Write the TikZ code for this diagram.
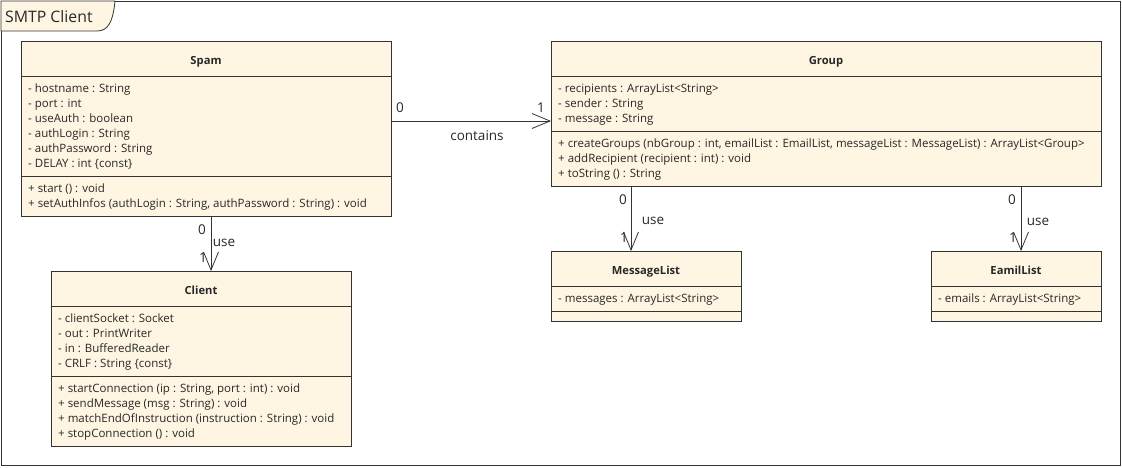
\documentclass[tikz,border=0pt]{standalone}
\usepackage{fontspec}
\setmainfont{Open Sans}
\usetikzlibrary{arrows.meta}
\definecolor{boxfill}{RGB}{254,246,226}
\definecolor{linec}{RGB}{51,51,51}
\definecolor{txt}{RGB}{40,40,40}
\tikzset{
  cls/.style={draw=linec, fill=boxfill, line width=0.8pt, anchor=north west, inner sep=0pt, outer sep=0pt},
  sep/.style={draw=linec, line width=0.8pt},
  attr/.style={anchor=base west, inner sep=0pt, text=txt, font=\fontsize{11.5}{13}\selectfont},
  title/.style={anchor=base, inner sep=0pt, text=txt, font=\fontsize{11.2}{13}\selectfont\bfseries},
  lbl/.style={inner sep=0pt, text=txt, font=\fontsize{13.5}{15}\selectfont},
  assoc/.style={draw=linec, line width=0.8pt, -{Straight Barb[length=18pt,width=15pt,line width=0.8pt]}},
}
\begin{document}
\begin{tikzpicture}[x=1pt,y=-1pt]
\useasboundingbox (0,0) rectangle (1122,467);
% frame
\node[draw=linec, line width=0.8pt, anchor=north west, inner sep=0pt, minimum width=1119pt, minimum height=464pt] (frame) at (1,1) {};
\draw[linec, line width=0.8pt, fill=boxfill] (1,1) -- (1,31) -- (97,31) .. controls (108,31) and (113,22) .. (115,1) -- cycle;
\node[lbl, font=\fontsize{15.8}{17}\selectfont, anchor=west] (tab) at (5,17) {SMTP Client};

% Spam
\node[cls, minimum width=370pt, minimum height=175pt] (spam) at (21,41) {};
\draw[sep] (21,76) -- (391,76);
\draw[sep] (21,176) -- (391,176);
\node[title] (spamt) at (206,64) {Spam};
\node[attr] (s1) at (28,92.5) {- hostname : String};
\node[attr] (s2) at (28,107.5) {- port : int};
\node[attr] (s3) at (28,122.5) {- useAuth : boolean};
\node[attr] (s4) at (28,137.5) {- authLogin : String};
\node[attr] (s5) at (28,152.5) {- authPassword : String};
\node[attr] (s6) at (28,167.5) {- DELAY : int \{const\}};
\node[attr] (s7) at (28,192.5) {+ start () : void};
\node[attr] (s8) at (28,207.5) {+ setAuthInfos (authLogin : String, authPassword : String) : void};

% Group
\node[cls, minimum width=550pt, minimum height=145pt] (group) at (551,41) {};
\draw[sep] (551,76) -- (1101,76);
\draw[sep] (551,131) -- (1101,131);
\node[title] (groupt) at (826,64) {Group};
\node[attr] (g1) at (558,92.5) {- recipients : ArrayList<String>};
\node[attr] (g2) at (558,107.5) {- sender : String};
\node[attr] (g3) at (558,122.5) {- message : String};
\node[attr] (g4) at (558,147.5) {+ createGroups (nbGroup : int, emailList : EmailList, messageList : MessageList) : ArrayList<Group>};
\node[attr] (g5) at (558,162.5) {+ addRecipient (recipient : int) : void};
\node[attr] (g6) at (558,177.5) {+ toString () : String};

% Client
\node[cls, minimum width=300pt, minimum height=175pt] (client) at (51,271) {};
\draw[sep] (51,306) -- (351,306);
\draw[sep] (51,376) -- (351,376);
\node[title] (clientt) at (201,294) {Client};
\node[attr] (c1) at (58,322.5) {- clientSocket : Socket};
\node[attr] (c2) at (58,337.5) {- out : PrintWriter};
\node[attr] (c3) at (58,352.5) {- in : BufferedReader};
\node[attr] (c4) at (58,367.5) {- CRLF : String \{const\}};
\node[attr] (c5) at (58,392.5) {+ startConnection (ip : String, port : int) : void};
\node[attr] (c6) at (58,407.5) {+ sendMessage (msg : String) : void};
\node[attr] (c7) at (58,422.5) {+ matchEndOfInstruction (instruction : String) : void};
\node[attr] (c8) at (58,437.5) {+ stopConnection () : void};

% MessageList
\node[cls, minimum width=190pt, minimum height=70pt] (msg) at (551,251) {};
\draw[sep] (551,286) -- (741,286);
\draw[sep] (551,311) -- (741,311);
\node[title] (msgt) at (646,274) {MessageList};
\node[attr] (m1) at (558,302.5) {- messages : ArrayList<String>};

% EamilList
\node[cls, minimum width=170pt, minimum height=70pt] (email) at (931,251) {};
\draw[sep] (931,286) -- (1101,286);
\draw[sep] (931,311) -- (1101,311);
\node[title] (emailt) at (1016,274) {EamilList};
\node[attr] (e1) at (938,302.5) {- emails : ArrayList<String>};

% connectors
\draw[assoc] (spam.east |- 0,121) -- (group.west |- 0,121);
\node[lbl] (l1) at (400,108) {0};
\node[lbl] (l2) at (541,108) {1};
\node[lbl] (l3) at (477,136) {contains};

\draw[assoc] (spam.south -| 211,0) -- (client.north -| 211,0);
\node[lbl] (l4) at (202,230) {0};
\node[lbl] (l5) at (224,243) {use};
\node[lbl] (l6) at (203,258) {1};

\draw[assoc] (group.south -| 631,0) -- (msg.north -| 631,0);
\node[lbl] (l7) at (623,200) {0};
\node[lbl] (l8) at (653,221) {use};
\node[lbl] (l9) at (624,238) {1};

\draw[assoc] (group.south -| 1021,0) -- (email.north -| 1021,0);
\node[lbl] (l10) at (1012,200) {0};
\node[lbl] (l11) at (1038,222) {use};
\node[lbl] (l12) at (1013,238) {1};
\end{tikzpicture}
\end{document}
